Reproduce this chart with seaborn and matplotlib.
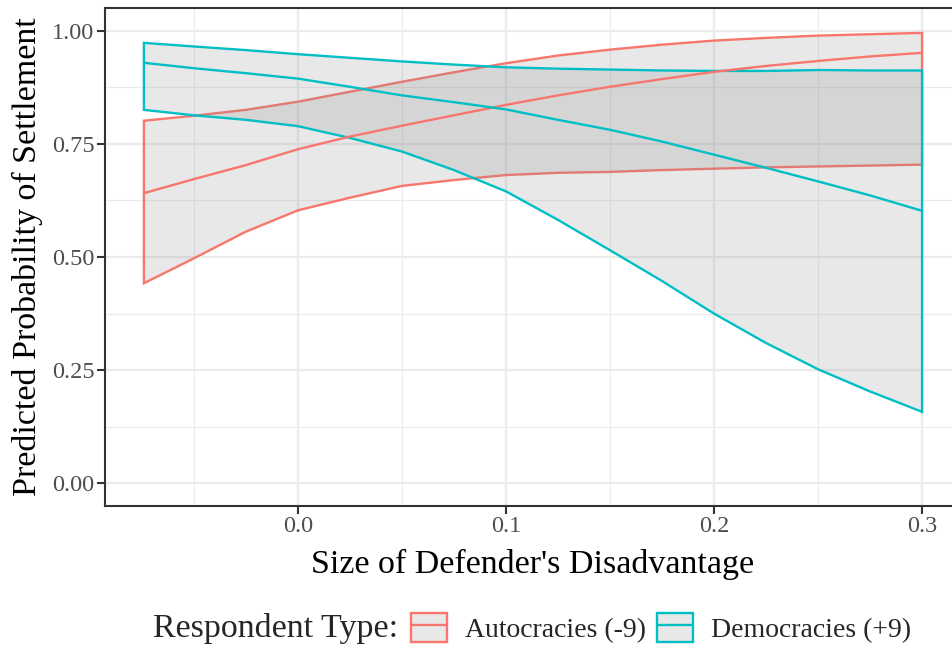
import numpy as np
import pandas as pd
import matplotlib
matplotlib.use("Agg")
import matplotlib.pyplot as plt
from matplotlib.patches import Patch
from matplotlib.lines import Line2D
from matplotlib.ticker import MultipleLocator
from matplotlib.offsetbox import HPacker
import seaborn as sns

# ---- data ----
disadvantage = [-0.074, -0.05, -0.025, 0.0, 0.025, 0.05, 0.075, 0.1, 0.125, 0.15,
                0.175, 0.2, 0.225, 0.25, 0.275, 0.3]

auto_mean = [0.641, 0.672, 0.703, 0.738, 0.766, 0.790, 0.813, 0.836, 0.857, 0.876,
             0.893, 0.909, 0.922, 0.933, 0.943, 0.951]
auto_low = [0.442, 0.497, 0.556, 0.603, 0.631, 0.657, 0.670, 0.681, 0.686, 0.688,
            0.692, 0.695, 0.698, 0.700, 0.702, 0.704]
auto_high = [0.801, 0.812, 0.825, 0.843, 0.865, 0.887, 0.908, 0.928, 0.945, 0.958,
             0.969, 0.978, 0.984, 0.989, 0.992, 0.995]

demo_mean = [0.929, 0.917, 0.906, 0.894, 0.876, 0.857, 0.842, 0.826, 0.803, 0.781,
             0.755, 0.726, 0.697, 0.667, 0.636, 0.602]
demo_low = [0.825, 0.813, 0.803, 0.789, 0.763, 0.733, 0.692, 0.645, 0.582, 0.515,
            0.447, 0.375, 0.310, 0.252, 0.203, 0.158]
demo_high = [0.973, 0.965, 0.957, 0.948, 0.940, 0.932, 0.925, 0.919, 0.916, 0.914,
             0.912, 0.911, 0.911, 0.913, 0.912, 0.912]

groups = ["Autocracies (-9)", "Democracies (+9)"]
colors = ["#F8766D", "#00BFC4"]

x_ticks = [0.0, 0.1, 0.2, 0.3]
y_ticks = [0.0, 0.25, 0.5, 0.75, 1.0]

df = pd.DataFrame({
    "x": disadvantage * 2,
    "mean": auto_mean + demo_mean,
    "low": auto_low + demo_low,
    "high": auto_high + demo_high,
    "group": [groups[0]] * len(disadvantage) + [groups[1]] * len(disadvantage),
})

# ---- style ----
sns.set_theme(style="white")
plt.rcParams["font.family"] = ["Liberation Serif", "DejaVu Serif"]

W, H = 952, 649
fig = plt.figure(figsize=(W / 100, H / 100), dpi=100)
ax_left, ax_right, ax_top, ax_bot = 105, 961, 8, 506
ax = fig.add_axes([ax_left / W, 1 - ax_bot / H, (ax_right - ax_left) / W, (ax_bot - ax_top) / H])

# ribbons (fill + coloured outline), drawn per group
ribbon_fill = (0.55, 0.55, 0.55, 0.2)
lw = 1.7
for g, c in zip(groups, colors):
    d = df[df["group"] == g]
    xs = np.concatenate([d["x"].values, d["x"].values[::-1]])
    ys = np.concatenate([d["low"].values, d["high"].values[::-1]])
    ax.fill(xs, ys, facecolor=ribbon_fill, edgecolor=c, linewidth=lw, zorder=2)

# mean lines
sns.lineplot(data=df, x="x", y="mean", hue="group", palette=colors,
             hue_order=groups, linewidth=lw, ax=ax, legend=False, zorder=3)

# axes
xr = (min(disadvantage), max(disadvantage))
span = xr[1] - xr[0]
ax.set_xlim(xr[0] - 0.05 * span, xr[1] + 0.05 * span)
ax.set_ylim(-0.05, 1.05)
ax.set_xticks(x_ticks)
ax.set_xticklabels([f"{v:.1f}" for v in x_ticks])
ax.set_yticks(y_ticks)
ax.set_yticklabels([f"{v:.2f}" for v in y_ticks])
ax.xaxis.set_minor_locator(MultipleLocator(0.05))
ax.yaxis.set_minor_locator(MultipleLocator(0.125))
ax.grid(which="major", color="#ebebeb", linewidth=1.6, zorder=0)
ax.grid(which="minor", color="#ebebeb", linewidth=0.8, zorder=0)
ax.set_axisbelow(True)
for s in ax.spines.values():
    s.set_color("#333333")
    s.set_linewidth(1.5)
ax.tick_params(which="major", direction="out", length=5.5, width=1.5, color="#333333",
               labelsize=17.5, labelcolor="#4d4d4d", pad=2, bottom=True, left=True)
ax.tick_params(which="minor", length=0)

ax.set_xlabel("Size of Defender's Disadvantage", fontsize=24.5, color="black", va="center")
ax.xaxis.set_label_coords(0.5, (ax_bot - 564) / (ax_bot - ax_top))
ax.set_ylabel("Predicted Probability of Settlement", fontsize=24.5, color="black", va="center")
ax.yaxis.set_label_coords((27 - ax_left) / (ax_right - ax_left), 0.5)

# legend
handles = []
for c in colors:
    handles.append((Patch(facecolor=ribbon_fill, edgecolor=c, linewidth=lw),
                    Line2D([], [], color=c, linewidth=lw)))
leg = fig.legend(handles, groups, loc="center", bbox_to_anchor=(532 / W, 1 - 628 / H),
                 ncol=2, frameon=False, fontsize=20, title="Respondent Type:",
                 handlelength=1.3, handleheight=1.25, columnspacing=0.4, handletextpad=0.65)
leg.get_title().set_fontsize(24.5)
title_box = leg._legend_title_box
entries = leg._legend_handle_box
leg._legend_box._children = [HPacker(pad=0, sep=9.5, align="center",
                                     children=[title_box, entries])]

fig.savefig("out.png", dpi=100)
